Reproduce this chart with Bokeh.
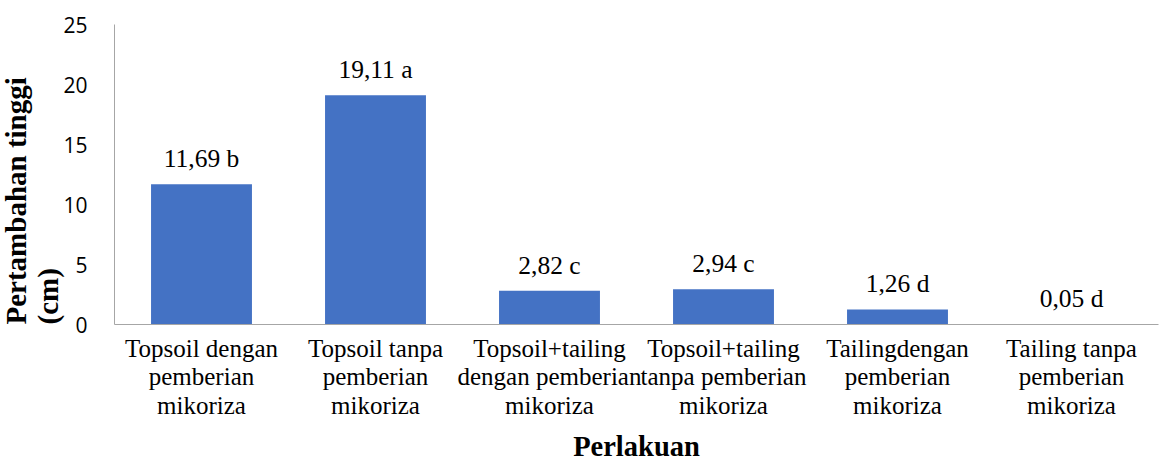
from bokeh.plotting import figure
from bokeh.models import ColumnDataSource, LabelSet, Title, Range1d, FactorRange
from bokeh.embed import file_html
from bokeh.resources import INLINE

categories = [
    "Topsoil dengan\npemberian\nmikoriza",
    "Topsoil tanpa\npemberian\nmikoriza",
    "Topsoil+tailing\ndengan pemberian\nmikoriza",
    "Topsoil+tailing\ntanpa pemberian\nmikoriza",
    "Tailingdengan\npemberian\nmikoriza",
    "Tailing tanpa\npemberian\nmikoriza",
]
values = [11.69, 19.11, 2.82, 2.94, 1.26, 0.05]
letters = ["b", "a", "c", "c", "d", "d"]
y_ticks = [0, 5, 10, 15, 20, 25]
value_labels = [f"{v:.2f}".replace(".", ",") + " " + l for v, l in zip(values, letters)]

source = ColumnDataSource(dict(cat=categories, val=values, lab=value_labels))

p = figure(width=1160, height=465, x_range=FactorRange(factors=categories),
           y_range=Range1d(0, 25), output_backend="svg", toolbar_location=None,
           min_border_left=114, min_border_right=2, min_border_top=24, min_border_bottom=140)
p.outline_line_color = None
p.xgrid.grid_line_color = None
p.ygrid.grid_line_color = None

p.vbar(x="cat", top="val", width=0.58, source=source, fill_color="#4472C4", line_color=None)

labels = LabelSet(x="cat", y="val", text="lab", source=source, text_align="center",
                  text_baseline="alphabetic", y_offset=17, text_font="Liberation Serif",
                  text_font_size="25.5px", text_color="#000000")
p.add_layout(labels)

p.yaxis.ticker = y_ticks
p.yaxis.axis_line_color = "#a6a6a6"
p.yaxis.major_tick_line_color = None
p.yaxis.minor_tick_line_color = None
p.yaxis.major_tick_out = 0
p.yaxis.major_tick_in = 0
p.yaxis.major_label_standoff = 27
p.yaxis.major_label_text_font = "Open Sans"
p.yaxis.major_label_text_font_size = "21px"
p.yaxis.major_label_text_color = "#000000"

p.xaxis.axis_line_color = "#a6a6a6"
p.xaxis.major_tick_line_color = None
p.xaxis.minor_tick_line_color = None
p.xaxis.major_tick_out = 0
p.xaxis.major_tick_in = 0
p.xaxis.major_label_standoff = 10
p.xaxis.major_label_text_font = "Liberation Serif"
p.xaxis.major_label_text_font_size = "25px"
p.xaxis.major_label_text_line_height = 1.07
p.xaxis.major_label_text_color = "#000000"
p.xaxis.axis_label = "Perlakuan"
p.xaxis.axis_label_text_font = "Liberation Serif"
p.xaxis.axis_label_text_font_style = "bold"
p.xaxis.axis_label_text_font_size = "28.5px"
p.xaxis.axis_label_text_line_height = 0.7
p.xaxis.axis_label_text_color = "#000000"
p.xaxis.axis_label_standoff = 9

ytitle = Title(text="Pertambahan tinggi\n(cm)", align="left",
               text_font="Liberation Serif", text_font_style="bold", text_font_size="29px",
               text_line_height=1.0, text_color="#000000", standoff=-7)
p.add_layout(ytitle, "left")

open("out.html", "w").write(file_html(p, INLINE))
